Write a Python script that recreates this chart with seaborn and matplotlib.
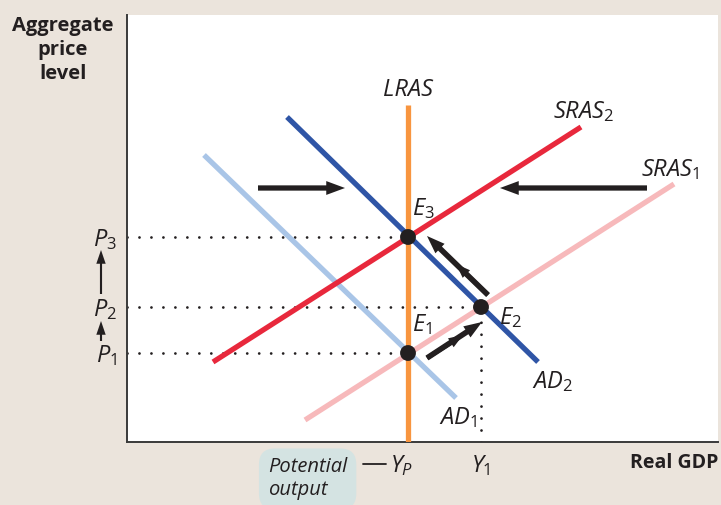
import matplotlib
matplotlib.use("Agg")
import matplotlib.pyplot as plt
import seaborn as sns
import pandas as pd

# Curve endpoints (x = real GDP units, y = price-level units)
lras_x = [281, 281]
lras_y = [0, 337]
ad1_x = [77, 329]
ad1_y = [287, 44]
ad2_x = [160, 411]
ad2_y = [325, 80]
sras1_x = [178, 547]
sras1_y = [22, 258]
sras2_x = [86, 454]
sras2_y = [80, 315]

# Equilibria E1, E2, E3
eq_names = ["E1", "E2", "E3"]
eq_x = [281, 354, 281]
eq_y = [89, 135, 205]

# Price levels P1, P2, P3 and output levels
p_levels = [89, 135, 205]
p_labels = ["$P_1$", "$P_2$", "$P_3$"]
y_levels = [275, 354]
y_labels = ["$Y_P$", "$Y_1$"]

BG = "#ebe4dc"
INK = "#231f20"

sns.set_theme(style="white")
plt.rcParams["font.family"] = ["Open Sans", "DejaVu Sans"]
plt.rcParams["mathtext.fontset"] = "custom"
plt.rcParams["mathtext.rm"] = "Open Sans"
plt.rcParams["mathtext.it"] = "Open Sans:italic"
plt.rcParams["mathtext.bf"] = "Open Sans:bold"

fig = plt.figure(figsize=(7.21, 5.05), dpi=100, facecolor=BG)
ax = fig.add_axes([127 / 721, 63 / 505, 591 / 721, 427 / 505])
ax.set_facecolor("white")
ax.set_xlim(0, 591)
ax.set_ylim(0, 427)
ax.set_xticks([])
ax.set_yticks([])
for side in ["top", "right"]:
    ax.spines[side].set_visible(False)
for side in ["left", "bottom"]:
    ax.spines[side].set_color("#3a3a3a")
    ax.spines[side].set_linewidth(1.4)

# Dotted guide lines
dot_kw = dict(color=INK, lw=2, linestyle=(0, (0.01, 4.3)), dash_capstyle="round", zorder=2)
for px, py in zip(eq_x, eq_y):
    ax.plot([0, px], [py, py], **dot_kw)
ax.plot([eq_x[1], eq_x[1]], [0, eq_y[1]], **dot_kw)

curves = [
    (ad1_x, ad1_y, "#a9c5e7"),
    (sras1_x, sras1_y, "#f7b9bb"),
    (ad2_x, ad2_y, "#2f55a6"),
    (sras2_x, sras2_y, "#e8283c"),
    (lras_x, lras_y, "#f8953f"),
]
for cx, cy, col in curves:
    df = pd.DataFrame({"x": cx, "y": cy})
    sns.lineplot(data=df, x="x", y="y", ax=ax, color=col, lw=3.8,
                 sort=False, estimator=None, solid_capstyle="butt", zorder=3)
ax.set_xlabel("")
ax.set_ylabel("")

sns.scatterplot(x=eq_x, y=eq_y, ax=ax, color=INK, s=130, edgecolor="none", zorder=5)


def arrow(start, end, style, scale):
    ax.annotate("", xy=end, xytext=start, annotation_clip=False, zorder=4,
                arrowprops=dict(arrowstyle=style, fc=INK, ec="none", lw=0,
                                shrinkA=0, shrinkB=0, mutation_scale=scale))


# Shift arrows
big = "simple,head_length=1.35,head_width=1.0,tail_width=0.38"
arrow((131, 254), (218, 254), big, 10)
arrow((520, 254), (373, 254), big, 10)

diag = "simple,head_length=1.3,head_width=0.95,tail_width=0.4"
arrow((300, 84), (355, 120), diag, 10)
arrow((300, 84), (336, 107), diag, 8)
arrow((361, 147), (300, 206), diag, 10)
arrow((361, 147), (329, 178), diag, 8)

# Curve labels
lab = dict(fontsize=17, color=INK, fontstyle="italic", clip_on=False)
ax.text(281, 352, "LRAS", ha="center", va="center", **lab)
ax.text(426, 330, "$SRAS_2$", ha="left", va="center", **lab)
ax.text(514, 272, "$SRAS_1$", ha="left", va="center", **lab)
ax.text(405, 60, "$AD_2$", ha="left", va="center", **lab)
ax.text(312, 24, "$AD_1$", ha="left", va="center", **lab)
ax.text(285, 233, "$E_3$", ha="left", va="center", **lab)
ax.text(372, 124, "$E_2$", ha="left", va="center", **lab)
ax.text(285, 117, "$E_1$", ha="left", va="center", **lab)

# Price-level labels on the vertical axis
for py, pl in zip(p_levels, p_labels):
    ax.text(-10, py - 3, pl, ha="right", va="center", **lab)
small = "simple,head_length=1.1,head_width=0.75,tail_width=0.17"
arrow((-26, 148), (-26, 192), small, 9)
arrow((-26, 101), (-26, 121), small, 9)

# Output labels below the horizontal axis
for yx, yl in zip(y_levels, y_labels):
    ax.text(yx, -24, yl, ha="center", va="center", **lab)
ax.plot([236, 259], [-22, -22], color=INK, lw=1.3, clip_on=False)
ax.text(141, -37, "Potential\noutput", ha="left", va="center", fontsize=14.5,
        fontstyle="italic", color=INK, linespacing=1.2, clip_on=False,
        bbox=dict(boxstyle="round,pad=0.45,rounding_size=0.8", fc="#d4e3e2", ec="none"))

fig.text(63 / 721, 1 - 50 / 505, "Aggregate\nprice\nlevel", ha="center", va="center",
         fontsize=14.5, fontweight="bold", color=INK, linespacing=1.28)
fig.text(718 / 721, 1 - 463 / 505, "Real GDP", ha="right", va="center",
         fontsize=14, fontweight="bold", color=INK)

fig.savefig("out.png", dpi=100, facecolor=BG)
